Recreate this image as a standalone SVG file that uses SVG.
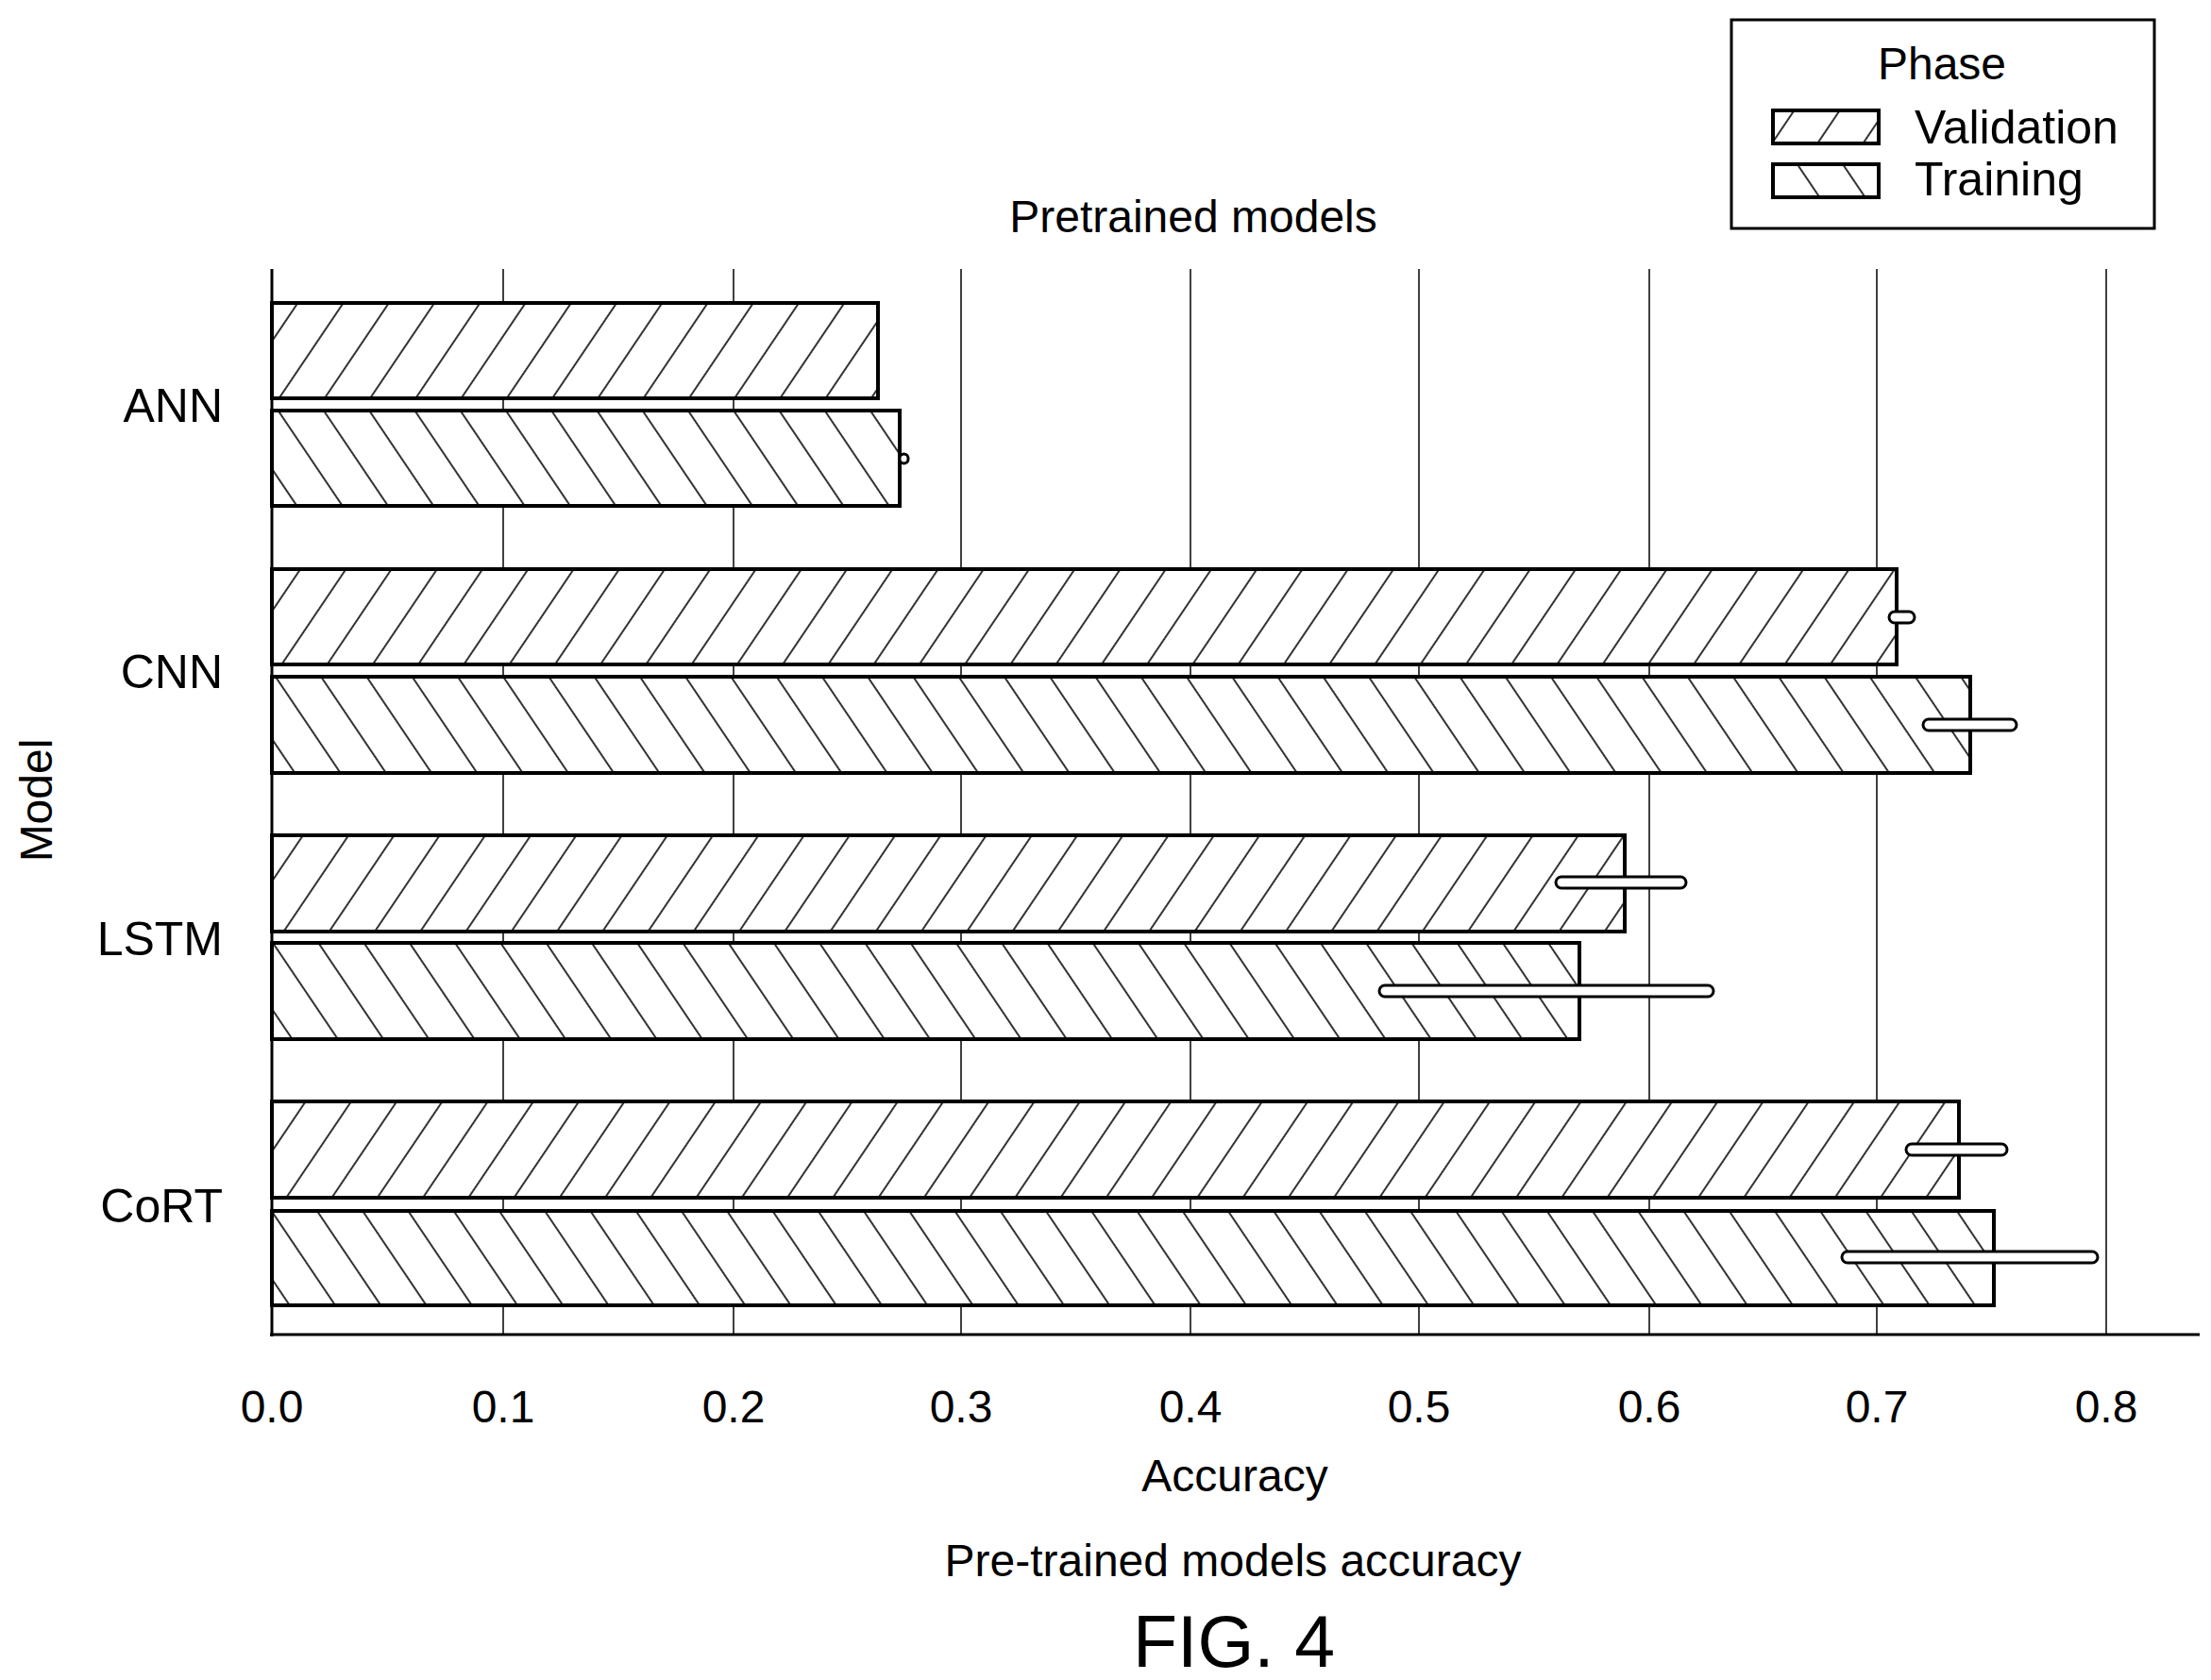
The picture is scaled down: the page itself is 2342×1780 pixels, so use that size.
<svg xmlns="http://www.w3.org/2000/svg" width="2342" height="1780" viewBox="0 0 2342 1780">
<style>
text{font-family:"Liberation Sans",Arial,sans-serif;fill:#000}
.lbl{font-size:50px;text-anchor:end}
.tick{font-size:48px;text-anchor:middle}
.grid{stroke:#000;stroke-width:1.5}
.val{fill:url(#hv);stroke:#000;stroke-width:4}
.trn{fill:url(#ht);stroke:#000;stroke-width:4}
.err{fill:#fff;stroke:#000;stroke-width:3}
</style>
<defs>
<pattern id="hv" patternUnits="userSpaceOnUse" width="40" height="20" patternTransform="rotate(34)"><rect width="40" height="20" fill="#fff"/><line x1="1" y1="0" x2="1" y2="20" stroke="#000" stroke-width="1.6"/></pattern>
<pattern id="ht" patternUnits="userSpaceOnUse" width="40" height="20" patternTransform="rotate(-34)"><rect width="40" height="20" fill="#fff"/><line x1="1" y1="0" x2="1" y2="20" stroke="#000" stroke-width="1.6"/></pattern>
</defs>
<rect width="2342" height="1780" fill="#fff"/>
<g id="grid">
<line class="grid" x1="533" y1="285" x2="533" y2="1414"/>
<line class="grid" x1="777" y1="285" x2="777" y2="1414"/>
<line class="grid" x1="1018" y1="285" x2="1018" y2="1414"/>
<line class="grid" x1="1261" y1="285" x2="1261" y2="1414"/>
<line class="grid" x1="1503" y1="285" x2="1503" y2="1414"/>
<line class="grid" x1="1747" y1="285" x2="1747" y2="1414"/>
<line class="grid" x1="1988" y1="285" x2="1988" y2="1414"/>
<line class="grid" x1="2231" y1="285" x2="2231" y2="1414"/>
</g>
<g id="bars">
<rect class="val" x="288" y="321" width="642" height="101"/>
<rect class="trn" x="288" y="435" width="665" height="101"/>
<rect class="val" x="288" y="603" width="1721" height="101"/>
<rect class="trn" x="288" y="717" width="1799" height="102"/>
<rect class="val" x="288" y="885" width="1433" height="102"/>
<rect class="trn" x="288" y="999" width="1385" height="102"/>
<rect class="val" x="288" y="1167" width="1787" height="102"/>
<rect class="trn" x="288" y="1283" width="1824" height="100"/>
</g>
<g id="errorbars">
<rect class="err" x="953" y="481" width="9" height="10" rx="4.5"/>
<rect class="err" x="2001" y="648" width="27" height="12" rx="6"/>
<rect class="err" x="2037" y="762" width="99" height="12" rx="6"/>
<rect class="err" x="1648" y="929" width="138" height="12" rx="6"/>
<rect class="err" x="1461" y="1044" width="354" height="12" rx="6"/>
<rect class="err" x="2019" y="1212" width="107" height="12" rx="6"/>
<rect class="err" x="1951" y="1326" width="271" height="12" rx="6"/>
</g>
<g id="axes">
<line x1="288" y1="285" x2="288" y2="1416" stroke="#000" stroke-width="3"/>
<line x1="286" y1="1414" x2="2330" y2="1414" stroke="#000" stroke-width="3"/>
</g>
<g id="labels">
<text class="lbl" x="236" y="447">ANN</text>
<text class="lbl" x="236" y="729">CNN</text>
<text class="lbl" x="236" y="1012">LSTM</text>
<text class="lbl" x="236" y="1295">CoRT</text>
<text font-size="48" text-anchor="middle" transform="translate(55,848) rotate(-90)">Model</text>
<text class="tick" x="288" y="1507">0.0</text>
<text class="tick" x="533" y="1507">0.1</text>
<text class="tick" x="777" y="1507">0.2</text>
<text class="tick" x="1018" y="1507">0.3</text>
<text class="tick" x="1261" y="1507">0.4</text>
<text class="tick" x="1503" y="1507">0.5</text>
<text class="tick" x="1747" y="1507">0.6</text>
<text class="tick" x="1988" y="1507">0.7</text>
<text class="tick" x="2231" y="1507">0.8</text>
<text class="tick" x="1308" y="1580">Accuracy</text>
<text class="tick" x="1264" y="246">Pretrained models</text>
<text class="tick" x="1306" y="1670">Pre-trained models accuracy</text>
<text font-size="77" text-anchor="middle" x="1307" y="1766">FIG. 4</text>
</g>
<g id="legend">
<rect x="1834" y="21" width="448" height="221" fill="#fff" stroke="#000" stroke-width="3"/>
<text font-size="48" text-anchor="middle" x="2057" y="84">Phase</text>
<rect class="val" x="1878" y="117" width="112" height="35" stroke-width="3"/>
<rect class="trn" x="1878" y="174" width="112" height="35" stroke-width="3"/>
<text font-size="50" x="2028" y="152">Validation</text>
<text font-size="50" x="2028" y="207">Training</text>
</g>
</svg>
